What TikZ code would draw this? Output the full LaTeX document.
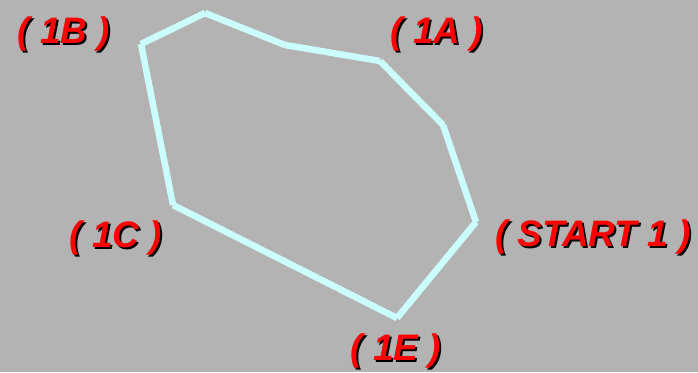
\documentclass[tikz,border=0pt]{standalone}
\usepackage{fontspec}
\setmainfont{Liberation Sans}
\usepackage{xcolor}
\usetikzlibrary{calc}
\definecolor{bggray}{RGB}{179,179,179}
\definecolor{trackcyan}{RGB}{204,255,255}
\definecolor{tagred}{RGB}{255,0,0}
\tikzset{
  track/.style={draw=trackcyan,line width=6.5bp,line cap=butt},
  tagtext/.style={text=tagred,font=\fontsize{37}{40}\selectfont\bfseries\itshape,inner sep=0pt},
  tagshadow/.style={tagtext,text=black},
}
\newcommand\placetag[3]{%
  \node[tagshadow] at ($(#1)+(2,2)$) {#3};
  \node[tagtext] (#2) at (#1) {#3};}
\begin{document}
\begin{tikzpicture}[x=1bp,y=-1bp]
\useasboundingbox[fill=bggray] (0,0) rectangle (698,372);
% course outline
\coordinate (start) at (476,222);
\coordinate (p1) at (443,125);
\coordinate (a) at (380,61);
\coordinate (p2) at (285,45);
\coordinate (p3) at (205,13);
\coordinate (b) at (141,44);
\coordinate (c) at (173,205);
\coordinate (e) at (397,318);
\foreach \u/\w in {start/p1,p1/a,a/p2,p2/p3,p3/b,b/c,c/e,e/start}
  \draw[track] (\u) -- (\w);
% labels
\placetag{64,34}{t1b}{( 1B )}
\placetag{437,34}{t1a}{( 1A )}
\placetag{593,237}{tstart}{( START 1 )}
\placetag{116,238}{t1c}{( 1C )}
\placetag{396,351}{t1e}{( 1E )}
\end{tikzpicture}
\end{document}
